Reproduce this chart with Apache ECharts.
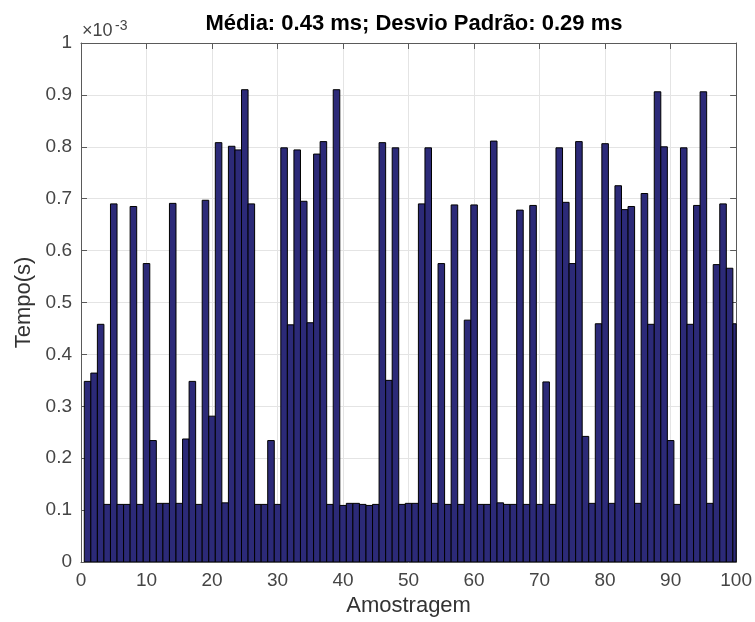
<!DOCTYPE html>
<html>
<head>
<meta charset="utf-8">
<title>Tempo por amostra</title>
<script src="https://cdn.jsdelivr.net/npm/echarts@6/dist/echarts.min.js"></script>
<style>
  html, body { margin: 0; padding: 0; background: #ffffff; }
  #chart { width: 755px; height: 622px; }
</style>
</head>
<body>
<div id="chart"></div>
<script>
// Tempo de cada amostra, em milissegundos (eixo mostrado em unidades de 10^-3 s)
const tempoMs = [
  0.348, 0.364, 0.458, 0.111, 0.690, 0.111, 0.111, 0.685, 0.111, 0.575,
  0.234, 0.113, 0.113, 0.691, 0.113, 0.237, 0.348, 0.111, 0.697, 0.281,
  0.808, 0.114, 0.801, 0.794, 0.910, 0.690, 0.111, 0.111, 0.234, 0.111,
  0.798, 0.457, 0.794, 0.695, 0.461, 0.786, 0.810, 0.111, 0.910, 0.109,
  0.113, 0.113, 0.111, 0.109, 0.111, 0.808, 0.350, 0.798, 0.111, 0.113,
  0.113, 0.690, 0.798, 0.113, 0.575, 0.111, 0.688, 0.111, 0.466, 0.688,
  0.111, 0.111, 0.811, 0.114, 0.111, 0.111, 0.678, 0.111, 0.687, 0.111,
  0.347, 0.111, 0.798, 0.693, 0.575, 0.810, 0.242, 0.113, 0.459, 0.806,
  0.113, 0.725, 0.679, 0.685, 0.113, 0.710, 0.458, 0.906, 0.800, 0.234,
  0.111, 0.798, 0.458, 0.687, 0.906, 0.113, 0.573, 0.690, 0.566, 0.459
];

const titulo = 'Média: 0.43 ms; Desvio Padrão: 0.29 ms';
const rotuloX = 'Amostragem';
const rotuloY = 'Tempo(s)';
const expoente = ['×10', '-3'];
const xTicks = { min: 0, max: 100, step: 10 };
const yTicks = { min: 0, max: 1, step: 0.1 };

// Pares [amostra, tempo]; a amostra é a posição (1..N) na série
const pontos = tempoMs.map((v, i) => [i + 1, v]);

const larguraBarra = 1; // em unidades de amostra
const grid = { left: 81, top: 43, width: 656, height: 519 };
const fonte = '"Liberation Sans", Arial, Helvetica, sans-serif';
const corEixo = '#5a5a5a';
const corTexto = '#454545';
const corGrade = '#e4e4e4';

const chart = echarts.init(document.getElementById('chart'), null, { renderer: 'canvas' });

const eixoX = (pos, comRotulo) => ({
  type: 'value',
  position: pos,
  min: xTicks.min, max: xTicks.max, interval: xTicks.step,
  name: comRotulo ? rotuloX : '',
  nameLocation: 'middle',
  nameGap: 33,
  nameTextStyle: { fontFamily: fonte, fontSize: 22, color: '#333333' },
  axisLine: { show: true, onZero: false, lineStyle: { color: corEixo, width: 1 } },
  axisTick: { show: true, inside: true, length: 6, lineStyle: { color: corEixo } },
  axisLabel: { show: comRotulo, fontFamily: fonte, fontSize: 19, color: corTexto, margin: 9 },
  splitLine: { show: comRotulo, lineStyle: { color: corGrade, width: 1 } }
});

const eixoY = (pos, comRotulo) => ({
  type: 'value',
  position: pos,
  min: yTicks.min, max: yTicks.max, interval: yTicks.step,
  name: comRotulo ? rotuloY : '',
  nameLocation: 'middle',
  nameGap: 45,
  nameRotate: 90,
  nameTextStyle: { fontFamily: fonte, fontSize: 22, color: '#333333' },
  axisLine: { show: true, onZero: false, lineStyle: { color: corEixo, width: 1 } },
  axisTick: { show: true, inside: true, length: 6, lineStyle: { color: corEixo } },
  axisLabel: {
    show: comRotulo, fontFamily: fonte, fontSize: 19, color: corTexto, margin: 9,
    formatter: (v) => String(Math.round(v * 10) / 10)
  },
  splitLine: { show: comRotulo, lineStyle: { color: corGrade, width: 1 } }
});

// Cada barra ocupa [x - w/2, x + w/2] no eixo de amostras, recortada pela área do gráfico
function desenhaBarra(params, api) {
  const x = api.value(0);
  const v = api.value(1);
  const base = api.coord([x - larguraBarra / 2, 0]);
  const topo = api.coord([x + larguraBarra / 2, v]);
  const cs = params.coordSys;
  const ret = echarts.graphic.clipRectByRect(
    { x: base[0], y: topo[1], width: topo[0] - base[0], height: base[1] - topo[1] },
    { x: cs.x, y: cs.y, width: cs.width, height: cs.height }
  );
  if (!ret) return null;
  return {
    type: 'rect',
    shape: ret,
    style: { fill: '#2c2a78', stroke: '#000000', lineWidth: 1 }
  };
}

chart.setOption({
  backgroundColor: '#ffffff',
  animation: false,
  title: {
    text: titulo,
    left: grid.left + grid.width / 2,
    textAlign: 'center',
    top: 8,
    textStyle: { fontFamily: fonte, fontSize: 22, fontWeight: 'bold', color: '#000000' }
  },
  grid: Object.assign({ containLabel: false }, grid),
  xAxis: [eixoX('bottom', true), eixoX('top', false)],
  yAxis: [eixoY('left', true), eixoY('right', false)],
  series: [{
    type: 'custom',
    xAxisIndex: 0,
    yAxisIndex: 0,
    data: pontos,
    clip: true,
    encode: { x: 0, y: 1 },
    renderItem: desenhaBarra
  }],
  graphic: [
    {
      type: 'text', left: grid.left + 1, top: 22, silent: true,
      style: { text: expoente[0], fontFamily: fonte, fontSize: 18, fill: corTexto }
    },
    {
      type: 'text', left: grid.left + 34, top: 19, silent: true,
      style: { text: expoente[1], fontFamily: fonte, fontSize: 14, fill: corTexto }
    }
  ]
});
</script>
</body>
</html>
